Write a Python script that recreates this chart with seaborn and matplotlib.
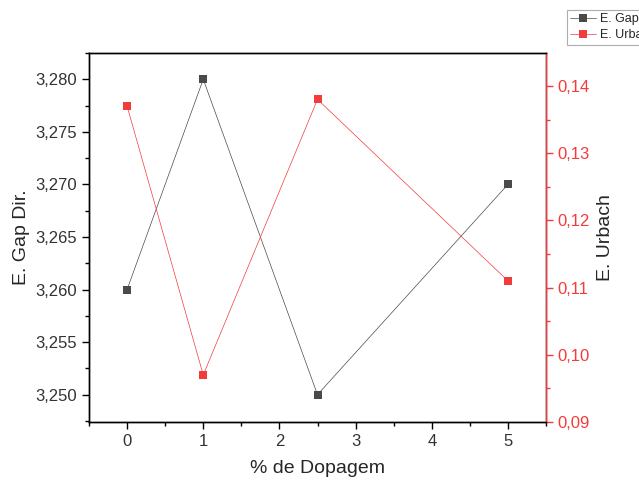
import matplotlib.pyplot as plt
import matplotlib.ticker as mticker
import pandas as pd
import seaborn as sns

sns.set_style('white')
plt.rcParams['font.family'] = ['Liberation Sans', 'DejaVu Sans']

dopagem = [0, 1, 2.5, 5]
gap_dir = [3.260, 3.280, 3.250, 3.270]
urbach = [0.137, 0.097, 0.138, 0.111]

df = pd.DataFrame({'dop': dopagem, 'gap': gap_dir, 'urb': urbach})

red = '#f23b3b'
grey = '#4a4a4a'

fig = plt.figure(figsize=(6.39, 4.8), dpi=100)
ax = fig.add_axes([89 / 639, 58 / 480, 457 / 639, 369 / 480])
ax2 = ax.twinx()

sns.lineplot(data=df, x='dop', y='gap', ax=ax, color=grey, lw=0.5, marker='s',
             markersize=6, markeredgewidth=0, label='E. Gap Dir.', legend=False)
sns.lineplot(data=df, x='dop', y='urb', ax=ax2, color=red, lw=0.5, marker='s',
             markersize=6, markeredgewidth=0, label='E. Urbach', legend=False)

ax.set_xlim(-0.5, 5.5)
ax.set_ylim(3.2474, 3.2825)
ax2.set_ylim(0.09, 0.1449)

ax.set_yticks([3.250, 3.255, 3.260, 3.265, 3.270, 3.275, 3.280])
ax2.set_yticks([0.09, 0.10, 0.11, 0.12, 0.13, 0.14])
ax.set_xticks([0, 1, 2, 3, 4, 5])
ax.xaxis.set_minor_locator(mticker.MultipleLocator(0.5))
ax.yaxis.set_minor_locator(mticker.MultipleLocator(0.0025))
ax2.yaxis.set_minor_locator(mticker.MultipleLocator(0.005))

ax.yaxis.set_major_formatter(mticker.FuncFormatter(lambda v, p: f'{v:.3f}'.replace('.', ',')))
ax2.yaxis.set_major_formatter(mticker.FuncFormatter(lambda v, p: f'{v:.2f}'.replace('.', ',')))

for a in (ax, ax2):
    for s in a.spines.values():
        s.set_color('black')
        s.set_linewidth(1.0)
ax2.spines['right'].set_color(red)

ax.tick_params(axis='both', which='major', direction='out', length=5, width=1,
               labelsize=12, labelcolor='#333333', color='black',
               left=True, bottom=True)
ax.tick_params(axis='both', which='minor', direction='out', length=3, width=1,
               color='black', left=True, bottom=True)
ax2.tick_params(axis='y', which='major', direction='out', length=5, width=1,
                labelsize=12, labelcolor=red, color=red, right=True)
ax2.tick_params(axis='y', which='minor', direction='out', length=3, width=1,
                color=red, right=True)

ax.set_xlabel('% de Dopagem', fontsize=14, labelpad=8)
ax.set_ylabel('E. Gap Dir.', fontsize=14, labelpad=4)
ax2.set_ylabel('E. Urbach', fontsize=14, labelpad=5)

h1, l1 = ax.get_legend_handles_labels()
h2, l2 = ax2.get_legend_handles_labels()
leg = fig.legend(h1 + h2, ['E. Gap Dir.', 'E. Urbach'], loc='upper left',
                 bbox_to_anchor=(567 / 639, 1 - 10 / 480), borderaxespad=0,
                 fontsize=9, frameon=True, fancybox=False, edgecolor='#999999',
                 handlelength=2.1, borderpad=0.25, labelspacing=0.35,
                 handletextpad=0.3)
leg.get_frame().set_linewidth(0.8)

fig.savefig('out.png', dpi=100)
